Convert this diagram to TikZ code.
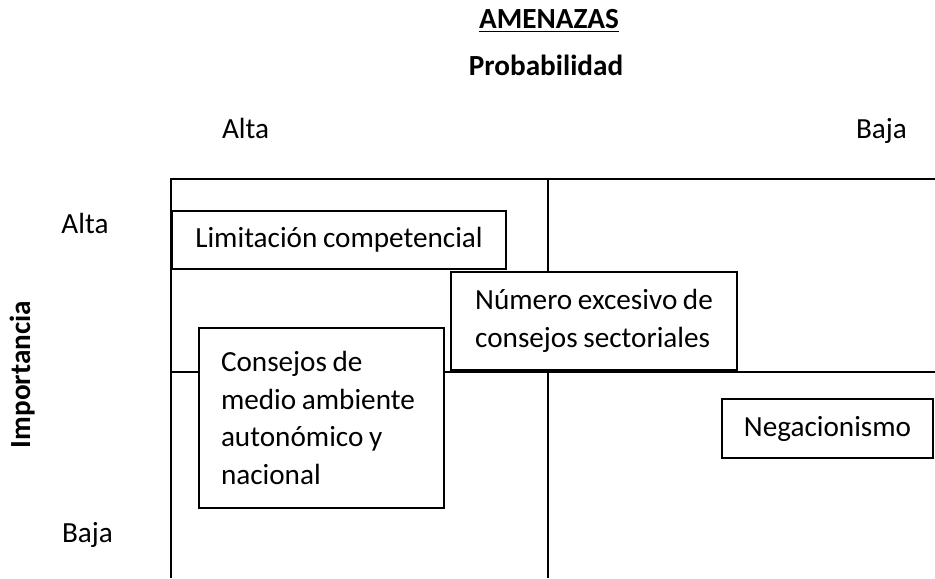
\documentclass[tikz,border=0pt]{standalone}
\usepackage{fontspec}
\setmainfont{Carlito}[WordSpace=0.85]
\usepackage{tikz}

\newcommand{\matfont}{\fontsize{14.6}{18.75}\selectfont}

\tikzset{
  gridline/.style={line width=1pt},
  cellbox/.style={draw=black, fill=white, line width=0.8pt, inner ysep=0pt, align=flush left},
  axislabel/.style={anchor=base, font=\matfont}
}

\begin{document}
\begin{tikzpicture}[x=0.5pt, y=-0.5pt, font=\matfont]
\useasboundingbox (0,0) rectangle (935,578);

% matrix frame
\coordinate (frameNW) at (171,179);
\coordinate (frameNE) at (935,179);
\coordinate (frameSW) at (171,578);
\coordinate (midN) at (548,179);
\coordinate (midS) at (548,578);
\coordinate (midW) at (171,372);
\coordinate (midE) at (935,372);
\draw[gridline] (frameNE) -- (frameNW) -- (frameSW);
\draw[gridline] (midN) -- (midS);
\draw[gridline] (midW) -- (midE);

% headings
\node[axislabel, font=\matfont\bfseries] (titulo) at (549,28) {\underline{AMENAZAS}};
\node[axislabel, font=\matfont\bfseries] (probabilidad) at (546,75) {Probabilidad};
\node[axislabel] (probAlta) at (245.5,138) {Alta};
\node[axislabel] (probBaja) at (881.5,138) {Baja};
\node[axislabel] (impAlta) at (85,233) {Alta};
\node[axislabel] (impBaja) at (87.5,542) {Baja};
\node[rotate=90, font=\matfont\bfseries] (importancia) at (23,374.5) {Importancia};

% amenazas
\node[cellbox, minimum width=167pt, minimum height=29pt, align=center] (limitacion) at (339,240) {Limitación competencial};
\node[cellbox, minimum width=143pt, minimum height=49pt] (numero) at (594,321) {%
Número excesivo de\\
consejos sectoriales};
\node[cellbox, minimum width=122.5pt, minimum height=90pt, inner xsep=0pt, text width=100.5pt] (consejos) at (321.5,418) {%
Consejos de\\
medio ambiente\\
autonómico y\\
nacional};
\node[cellbox, minimum width=105.5pt, minimum height=29.5pt, align=center] (negacionismo) at (827.5,428.5) {Negacionismo};
\end{tikzpicture}
\end{document}
